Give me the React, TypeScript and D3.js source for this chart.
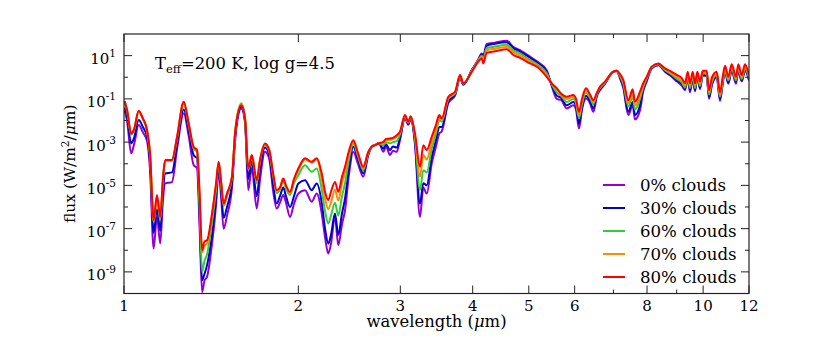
import React from "react";
import * as d3 from "d3";

// wavelength grid (micron)
const wavelengths = [
  1.002, 1.012, 1.029, 1.041, 1.06, 1.078, 1.096, 1.109, 1.125, 1.14, 1.155, 1.168, 1.178, 1.21, 1.235,
  1.268, 1.293, 1.319, 1.337, 1.35, 1.364, 1.377, 1.391, 1.419, 1.442, 1.457, 1.471, 1.486, 1.506, 1.536,
  1.557, 1.594, 1.618, 1.639, 1.662, 1.695, 1.717, 1.752, 1.782, 1.808, 1.835, 1.859, 1.884, 1.904, 1.935,
  1.966, 2.0, 2.054, 2.109, 2.152, 2.195, 2.224, 2.253, 2.277, 2.314, 2.344, 2.379, 2.408, 2.446, 2.488,
  2.535, 2.589, 2.641, 2.681, 2.713, 2.756, 2.804, 2.834, 2.879, 2.914, 2.957, 2.996, 3.056, 3.097, 3.126,
  3.18, 3.244, 3.287, 3.332, 3.399, 3.457, 3.503, 3.537, 3.631, 3.729, 3.804, 3.854, 3.985, 4.09, 4.146,
  4.173, 4.229, 4.371, 4.58, 4.701, 4.828, 5.024, 5.187, 5.369, 5.483, 5.587, 5.683, 5.813, 5.968, 6.032,
  6.104, 6.177, 6.277, 6.378, 6.462, 6.558, 6.636, 6.77, 6.905, 6.988, 7.092, 7.185, 7.28, 7.426, 7.557,
  7.626, 7.78, 7.873, 7.99, 8.15, 8.367, 8.593, 8.825, 9.013, 9.194, 9.304, 9.405, 9.491, 9.594, 9.682,
  9.771, 9.876, 9.983, 10.143, 10.236, 10.359, 10.554, 10.694, 10.822, 10.909, 11.052, 11.203, 11.396, 11.501, 11.657,
  11.811, 12.0,
];

// log10 of flux (W/m2/um) for each cloud fraction
const logFlux0 = [
  -1.55, -2.0, -3.52, -3.1, -2.21, -2.55, -2.95, -4.3, -7.92, -6.46, -7.69, -5.6, -4.91, -4.85, -3.3,
  -1.67, -2.7, -4.06, -4.2, -6.8, -9.93, -9.4, -9.23, -7.7, -5.9, -4.3, -5.5, -7.0, -6.4, -5.1,
  -2.8, -1.45, -2.1, -5.22, -4.2, -6.07, -4.76, -3.45, -3.8, -5.2, -6.07, -5.8, -5.45, -5.8, -6.46,
  -5.85, -5.38, -5.22, -5.76, -5.38, -6.3, -7.4, -8.15, -7.7, -6.46, -7.77, -6.8, -6.15, -4.5, -3.45,
  -4.0, -4.6, -3.6, -3.2, -3.14, -3.05, -3.45, -3.2, -3.6, -3.4, -3.45, -2.9, -1.9, -2.2, -1.95,
  -3.1, -6.46, -5.1, -5.38, -3.99, -3.2, -2.6, -2.5, -1.2, -0.85, -0.05, -0.35, 0.33, 0.82, 1.1,
  1.0, 1.54, 1.6, 1.69, 1.41, 1.25, 0.95, 0.7, 0.33, -0.45, -1.0, -1.05, -1.44, -1.3, -1.5,
  -2.37, -1.5, -0.98, -1.2, -1.6, -0.85, -0.6, -0.3, 0.1, 0.25, 0.28, -0.05, -0.5, -1.75, -1.29,
  -1.95, -1.52, -0.7, -0.2, 0.4, 0.55, 0.25, 0.02, -0.2, -0.4, -0.6, -0.05, -0.7, -0.08, -0.65,
  0.0, -0.55, 0.08, 0.05, -1.0, -0.35, 0.0, -1.1, -0.2, 0.25, -0.3, 0.3, -0.3, 0.3, -0.2,
  0.3, -0.15,
];

const logFlux30 = [
  -1.4, -1.8, -3.06, -2.8, -1.98, -2.3, -2.75, -3.9, -7.2, -6.1, -7.1, -5.2, -4.45, -4.4, -3.1,
  -1.49, -2.45, -3.6, -3.75, -6.2, -9.39, -9.1, -8.7, -7.3, -5.6, -4.1, -5.2, -6.5, -6.0, -4.9,
  -2.6, -1.35, -2.0, -4.7, -3.9, -5.5, -4.3, -3.25, -3.6, -4.9, -5.84, -5.5, -5.1, -5.5, -6.0,
  -5.5, -4.91, -4.76, -5.22, -4.91, -5.8, -7.0, -7.69, -7.3, -6.3, -7.3, -6.3, -5.6, -4.2, -3.2,
  -3.8, -4.45, -3.55, -3.2, -3.14, -3.05, -3.3, -3.1, -3.37, -3.2, -3.25, -2.8, -1.85, -2.15, -1.9,
  -3.0, -5.84, -4.9, -5.0, -3.7, -2.9, -2.3, -2.3, -1.1, -0.8, 0.0, -0.32, 0.32, 0.8, 1.05,
  0.95, 1.45, 1.55, 1.62, 1.35, 1.2, 0.9, 0.65, 0.26, -0.4, -0.85, -0.95, -1.3, -1.15, -1.35,
  -2.15, -1.4, -0.85, -1.1, -1.45, -0.8, -0.55, -0.28, 0.1, 0.25, 0.3, 0.0, -0.4, -1.6, -1.15,
  -1.75, -1.3, -0.6, -0.12, 0.42, 0.58, 0.28, 0.06, -0.15, -0.32, -0.55, 0.0, -0.6, -0.02, -0.6,
  0.05, -0.48, 0.12, 0.08, -0.9, -0.3, 0.05, -1.0, -0.15, 0.3, -0.25, 0.35, -0.22, 0.35, -0.15,
  0.35, -0.1,
];

const logFlux60 = [
  -1.12, -1.55, -2.65, -2.45, -1.6, -1.95, -2.5, -3.6, -6.7, -5.6, -6.6, -4.7, -3.85, -3.85, -2.8,
  -1.2, -2.2, -3.3, -3.45, -5.8, -9.0, -8.5, -8.2, -6.7, -5.2, -3.95, -4.9, -5.95, -5.5, -4.65,
  -2.42, -1.2, -1.9, -4.3, -3.65, -4.9, -3.9, -3.15, -3.45, -4.5, -5.35, -5.2, -4.8, -5.15, -5.45,
  -4.9, -4.53, -4.07, -4.37, -4.22, -5.2, -6.2, -6.76, -6.4, -5.8, -6.4, -5.5, -4.9, -3.8, -3.05,
  -3.65, -4.3, -3.5, -3.2, -3.14, -3.05, -3.15, -3.0, -3.05, -3.0, -2.95, -2.65, -1.8, -2.1, -1.85,
  -2.8, -5.22, -4.3, -4.4, -3.3, -2.6, -2.0, -2.05, -1.0, -0.75, 0.05, -0.3, 0.3, 0.78, 1.0,
  0.85, 1.35, 1.42, 1.5, 1.25, 1.1, 0.8, 0.58, 0.18, -0.35, -0.7, -0.85, -1.15, -1.0, -1.2,
  -1.9, -1.25, -0.7, -0.95, -1.25, -0.75, -0.5, -0.25, 0.1, 0.25, 0.3, 0.05, -0.3, -1.35, -0.9,
  -1.5, -1.0, -0.5, -0.05, 0.45, 0.6, 0.33, 0.12, -0.08, -0.25, -0.48, 0.05, -0.5, 0.05, -0.5,
  0.1, -0.4, 0.18, 0.15, -0.8, -0.2, 0.1, -0.9, -0.1, 0.35, -0.15, 0.42, -0.15, 0.42, -0.08,
  0.42, -0.05,
];

const logFlux70 = [
  -1.1, -1.5, -2.62, -2.4, -1.58, -1.92, -2.46, -3.55, -6.65, -5.5, -6.5, -4.65, -3.85, -3.85, -2.78,
  -1.15, -2.15, -3.25, -3.4, -5.4, -8.1, -7.8, -7.7, -6.4, -5.0, -3.93, -4.85, -5.9, -5.4, -4.62,
  -2.45, -1.25, -1.9, -4.25, -3.62, -4.8, -3.85, -3.1, -3.4, -4.45, -5.25, -5.15, -4.7, -5.05, -5.35,
  -4.75, -4.3, -3.8, -3.95, -3.8, -4.7, -5.6, -6.1, -5.8, -5.2, -5.7, -4.9, -4.4, -3.55, -2.95,
  -3.55, -4.2, -3.48, -3.2, -3.14, -3.05, -3.05, -2.9, -2.9, -2.85, -2.75, -2.55, -1.78, -2.08, -1.82,
  -2.7, -4.6, -3.6, -3.8, -3.0, -2.4, -1.85, -1.95, -0.95, -0.7, 0.08, -0.28, 0.28, 0.75, 0.95,
  0.75, 1.25, 1.32, 1.4, 1.15, 1.0, 0.72, 0.5, 0.1, -0.3, -0.55, -0.78, -1.0, -0.9, -1.1,
  -1.75, -1.1, -0.6, -0.85, -1.15, -0.72, -0.47, -0.22, 0.1, 0.25, 0.3, 0.1, -0.2, -1.2, -0.75,
  -1.3, -0.85, -0.4, -0.02, 0.47, 0.62, 0.38, 0.18, 0.0, -0.15, -0.38, 0.15, -0.4, 0.15, -0.38,
  0.18, -0.3, 0.25, 0.22, -0.7, -0.1, 0.15, -0.8, 0.0, 0.45, -0.08, 0.5, -0.05, 0.5, 0.0,
  0.5, 0.05,
];

const logFlux80 = [
  -1.1, -1.5, -2.6, -2.4, -1.55, -1.9, -2.44, -3.5, -6.61, -5.45, -6.46, -4.6, -3.83, -3.83, -2.75,
  -1.13, -2.13, -3.22, -3.37, -5.2, -8.0, -7.6, -7.54, -6.3, -4.9, -3.91, -4.8, -5.84, -5.38, -4.6,
  -2.44, -1.29, -1.9, -4.22, -3.6, -4.76, -3.83, -3.06, -3.37, -4.4, -5.22, -5.1, -4.68, -5.0, -5.3,
  -4.7, -4.22, -3.75, -3.91, -3.75, -4.45, -5.3, -5.68, -5.3, -4.84, -5.3, -4.6, -4.14, -3.4, -2.91,
  -3.5, -4.14, -3.45, -3.2, -3.14, -3.05, -2.99, -2.85, -2.83, -2.8, -2.68, -2.52, -1.75, -2.06, -1.8,
  -2.6, -4.14, -3.14, -3.37, -2.75, -2.2, -1.75, -1.9, -0.9, -0.67, 0.1, -0.28, 0.25, 0.72, 0.87,
  0.64, 1.13, 1.2, 1.29, 1.03, 0.9, 0.64, 0.45, 0.02, -0.3, -0.51, -0.75, -0.9, -0.82, -1.0,
  -1.6, -1.0, -0.51, -0.8, -1.06, -0.7, -0.44, -0.2, 0.1, 0.25, 0.3, 0.15, -0.13, -1.06, -0.56,
  -1.13, -0.67, -0.3, 0.02, 0.49, 0.64, 0.41, 0.25, 0.1, -0.05, -0.28, 0.25, -0.28, 0.25, -0.28,
  0.25, -0.2, 0.3, 0.3, -0.6, 0.0, 0.25, -0.7, 0.1, 0.53, 0.02, 0.6, 0.02, 0.6, 0.1,
  0.6, 0.1,
];

const seriesLabels = ["0% clouds", "30% clouds", "60% clouds", "70% clouds", "80% clouds"];
const seriesColors = ["#9400d3", "#0000cd", "#32cd32", "#ff8c00", "#ff0000"];
const seriesValues = [logFlux0, logFlux30, logFlux60, logFlux70, logFlux80];

const xTicks = [1, 2, 3, 4, 5, 6, 8, 10, 12];
const xMinorTicks = [7, 9];
const yLabelExps = [1, -1, -3, -5, -7, -9];
const yMinorExps = [0, -2, -4, -6, -8];

const W = 830;
const H = 346;
const margin = { top: 34, right: 81, bottom: 52.5, left: 124 };
const font = "'DejaVu Serif', serif";

export default function App() {
  const x = d3
    .scaleLog()
    .domain([1, 12])
    .range([margin.left, W - margin.right]);
  const y = d3
    .scaleLog()
    .domain([1e-10, 1e2])
    .range([H - margin.bottom, margin.top]);

  const line = d3
    .line<[number, number]>()
    .x((d) => x(d[0]))
    .y((d) => y(d[1]))
    .curve(d3.curveMonotoneX);

  const series = seriesValues.map((vals, i) => ({
    label: seriesLabels[i],
    color: seriesColors[i],
    points: wavelengths.map((w, j) => [w, Math.pow(10, vals[j])] as [number, number]),
  }));

  const x0 = margin.left;
  const x1 = W - margin.right;
  const y0 = H - margin.bottom;
  const y1 = margin.top;

  return (
    <svg
      width={W}
      height={H}
      style={{ position: "absolute", left: 0, top: 0, background: "#fff" }}
      fontFamily={font}
    >
      <defs>
        <clipPath id="plot">
          <rect x={x0} y={y1} width={x1 - x0} height={y0 - y1} />
        </clipPath>
      </defs>

      <g clipPath="url(#plot)">
        {series.map((s) => (
          <path
            key={s.label}
            d={line(s.points) || ""}
            fill="none"
            stroke={s.color}
            strokeWidth={2}
            strokeLinejoin="round"
          />
        ))}
      </g>

      {/* frame */}
      <rect x={x0} y={y1} width={x1 - x0} height={y0 - y1} fill="none" stroke="#222" strokeWidth={1.2} />

      {/* x ticks, bottom and top */}
      {xTicks.map((t) => (
        <g key={"xt" + t}>
          <line x1={x(t)} x2={x(t)} y1={y0} y2={y0 - 8} stroke="#222" />
          <line x1={x(t)} x2={x(t)} y1={y1} y2={y1 + 8} stroke="#222" />
          <text x={x(t)} y={y0 + 17} textAnchor="middle" fontSize={15} fill="#000">
            {t}
          </text>
        </g>
      ))}
      {xMinorTicks.map((t) => (
        <g key={"xm" + t}>
          <line x1={x(t)} x2={x(t)} y1={y0} y2={y0 - 4} stroke="#222" />
          <line x1={x(t)} x2={x(t)} y1={y1} y2={y1 + 4} stroke="#222" />
        </g>
      ))}

      {/* y ticks, left and right */}
      {yLabelExps.map((e) => (
        <g key={"yt" + e}>
          <line x1={x0} x2={x0 + 8} y1={y(Math.pow(10, e))} y2={y(Math.pow(10, e))} stroke="#222" />
          <line x1={x1} x2={x1 - 8} y1={y(Math.pow(10, e))} y2={y(Math.pow(10, e))} stroke="#222" />
          <text x={x0 - 8} y={y(Math.pow(10, e)) + 8.5} textAnchor="end" fontSize={15} fill="#000">
            10
            <tspan fontSize={10.5} dy={-7}>
              {e < 0 ? "-" + Math.abs(e) : String(e)}
            </tspan>
          </text>
        </g>
      ))}
      {yMinorExps.map((e) => (
        <g key={"ym" + e}>
          <line x1={x0} x2={x0 + 4} y1={y(Math.pow(10, e))} y2={y(Math.pow(10, e))} stroke="#222" />
          <line x1={x1} x2={x1 - 4} y1={y(Math.pow(10, e))} y2={y(Math.pow(10, e))} stroke="#222" />
        </g>
      ))}

      {/* axis labels */}
      <text x={(x0 + x1) / 2} y={y0 + 33.5} textAnchor="middle" fontSize={16.4} fill="#000">
        wavelength (<tspan fontStyle="italic">μ</tspan>m)
      </text>
      <text
        transform={`translate(75, ${(y0 + y1) / 2}) rotate(-90)`}
        textAnchor="middle"
        fontSize={15.5}
        fill="#000"
      >
        flux (W/m
        <tspan fontSize={10.5} dy={-6}>
          2
        </tspan>
        <tspan dy={6}>/</tspan>
        <tspan fontStyle="italic">μ</tspan>m)
      </text>

      {/* annotation */}
      <text x={155} y={69} fontSize={16.4} fill="#000">
        T
        <tspan fontSize={11.5} dy={4}>
          eff
        </tspan>
        <tspan dy={-4}>=200 K, log g=4.5</tspan>
      </text>

      {/* legend */}
      {series.map((s, i) => (
        <g key={"lg" + i} transform={`translate(603, ${185 + i * 23})`}>
          <line x1={0} x2={22} y1={0} y2={0} stroke={s.color} strokeWidth={2} />
          <text x={37} y={5.5} fontSize={16.6} fill="#000">
            {s.label}
          </text>
        </g>
      ))}
    </svg>
  );
}
